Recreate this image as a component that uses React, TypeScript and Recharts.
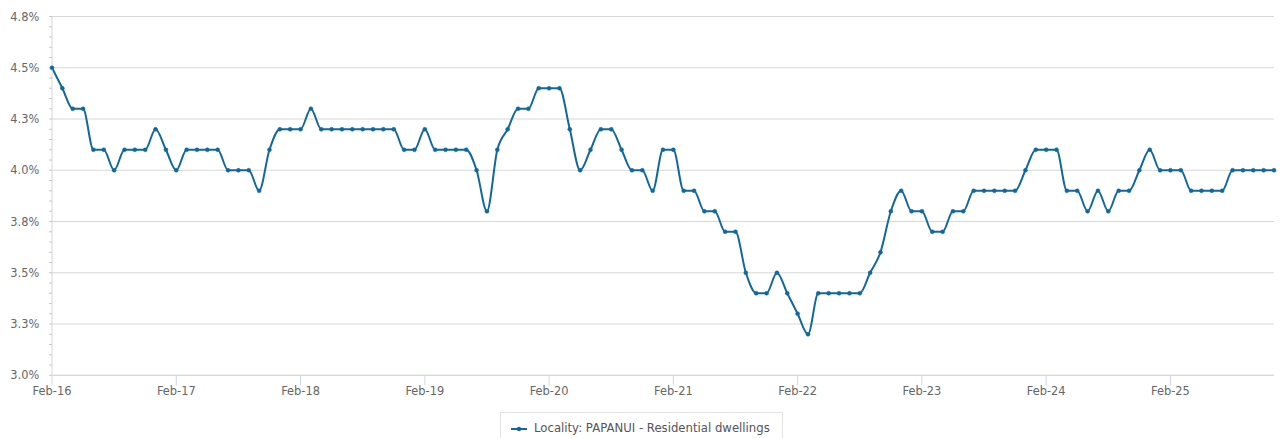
import { LineChart, Line, XAxis, YAxis, CartesianGrid, Legend } from "recharts";

// monthly values, Feb-16 .. Dec-25
const rates = [
  4.5, 4.4, 4.3, 4.3, 4.1, 4.1, 4.0, 4.1, 4.1, 4.1,
  4.2, 4.1, 4.0, 4.1, 4.1, 4.1, 4.1, 4.0, 4.0, 4.0,
  3.9, 4.1, 4.2, 4.2, 4.2, 4.3, 4.2, 4.2, 4.2, 4.2,
  4.2, 4.2, 4.2, 4.2, 4.1, 4.1, 4.2, 4.1, 4.1, 4.1,
  4.1, 4.0, 3.8, 4.1, 4.2, 4.3, 4.3, 4.4, 4.4, 4.4,
  4.2, 4.0, 4.1, 4.2, 4.2, 4.1, 4.0, 4.0, 3.9, 4.1,
  4.1, 3.9, 3.9, 3.8, 3.8, 3.7, 3.7, 3.5, 3.4, 3.4,
  3.5, 3.4, 3.3, 3.2, 3.4, 3.4, 3.4, 3.4, 3.4, 3.5,
  3.6, 3.8, 3.9, 3.8, 3.8, 3.7, 3.7, 3.8, 3.8, 3.9,
  3.9, 3.9, 3.9, 3.9, 4.0, 4.1, 4.1, 4.1, 3.9, 3.9,
  3.8, 3.9, 3.8, 3.9, 3.9, 4.0, 4.1, 4.0, 4.0, 4.0,
  3.9, 3.9, 3.9, 3.9, 4.0, 4.0, 4.0, 4.0, 4.0,
];

const xTickIdx = [0, 12, 24, 36, 48, 60, 72, 84, 96, 108];
const xTickLabels = ["Feb-16", "Feb-17", "Feb-18", "Feb-19", "Feb-20", "Feb-21", "Feb-22", "Feb-23", "Feb-24", "Feb-25"];

const yMajor = [3.0, 3.25, 3.5, 3.75, 4.0, 4.25, 4.5, 4.75];

const seriesName = "Locality: PAPANUI - Residential dwellings";
const COLOR = "#12689a";
const FONT = "DejaVu Sans";

// minor ticks every 0.05 between the majors
const yTicks: number[] = [];
for (let k = 0; k <= 35; k++) yTicks.push(Math.round((3 + k * 0.05) * 100) / 100);

const data = rates.map((v, i) => ({ i, v }));

function yLabel(v: number) {
  const hundredths = Math.round(v * 100);
  return hundredths % 25 === 0 ? `${v.toFixed(1)}%` : "";
}

function xLabel(v: number) {
  const k = xTickIdx.indexOf(v);
  return k >= 0 ? xTickLabels[k] : "";
}

function LegendBox() {
  return (
    <div
      style={{
        boxSizing: "border-box",
        width: 283,
        height: 26,
        border: "1px solid #e3e3e3",
        borderBottom: "none",
        background: "#fff",
        position: "relative",
        fontFamily: FONT,
      }}
    >
      <svg width={20} height={10} style={{ position: "absolute", left: 9, top: 11 }}>
        <line x1={1} y1={5} x2={17} y2={5} stroke={COLOR} strokeWidth={2} />
        <circle cx={9} cy={5} r={2.2} fill={COLOR} />
      </svg>
      <span
        style={{
          position: "absolute",
          left: 33,
          top: 8,
          fontSize: 11.7,
          color: "#555",
          whiteSpace: "nowrap",
          lineHeight: "14px",
        }}
      >
        {seriesName}
      </span>
    </div>
  );
}

export default function App() {
  return (
    <div style={{ position: "absolute", left: 0, top: 0, width: 1281, height: 438, background: "#fff" }}>
      <LineChart width={1281} height={438} data={data} margin={{ top: 16.5, right: 7, bottom: 0, left: 0 }}>
        <CartesianGrid vertical={false} horizontalValues={yMajor} stroke="#d8d8d8" />
        <XAxis
          dataKey="i"
          type="number"
          domain={[0, 118]}
          ticks={xTickIdx}
          tickFormatter={xLabel}
          interval={0}
          height={62.7}
          tickSize={10}
          tickMargin={2}
          axisLine={{ stroke: "#d6d6d6" }}
          tickLine={{ stroke: "#ccd6eb" }}
          tick={{ fontSize: 11.4, fill: "#666", fontFamily: FONT }}
        />
        <YAxis
          type="number"
          domain={[3, 4.75]}
          ticks={yTicks}
          tickFormatter={yLabel}
          interval={0}
          width={52}
          tickSize={3}
          tickMargin={9.7}
          allowDataOverflow
          axisLine={{ stroke: "#d6d6d6" }}
          tickLine={{ stroke: "#c8c8c8" }}
          tick={{ fontSize: 11.4, fill: "#666", fontFamily: FONT }}
        />
        <Legend
          layout="horizontal"
          verticalAlign="middle"
          align="center"
          content={() => <LegendBox />}
          wrapperStyle={{ top: 412, left: 500, width: 283, height: 26 }}
        />
        <Line
          type="monotone"
          dataKey="v"
          name={seriesName}
          stroke={COLOR}
          strokeWidth={2}
          dot={{ r: 2, fill: COLOR, stroke: COLOR, strokeWidth: 0.5 }}
          activeDot={false}
          isAnimationActive={false}
        />
      </LineChart>
    </div>
  );
}
